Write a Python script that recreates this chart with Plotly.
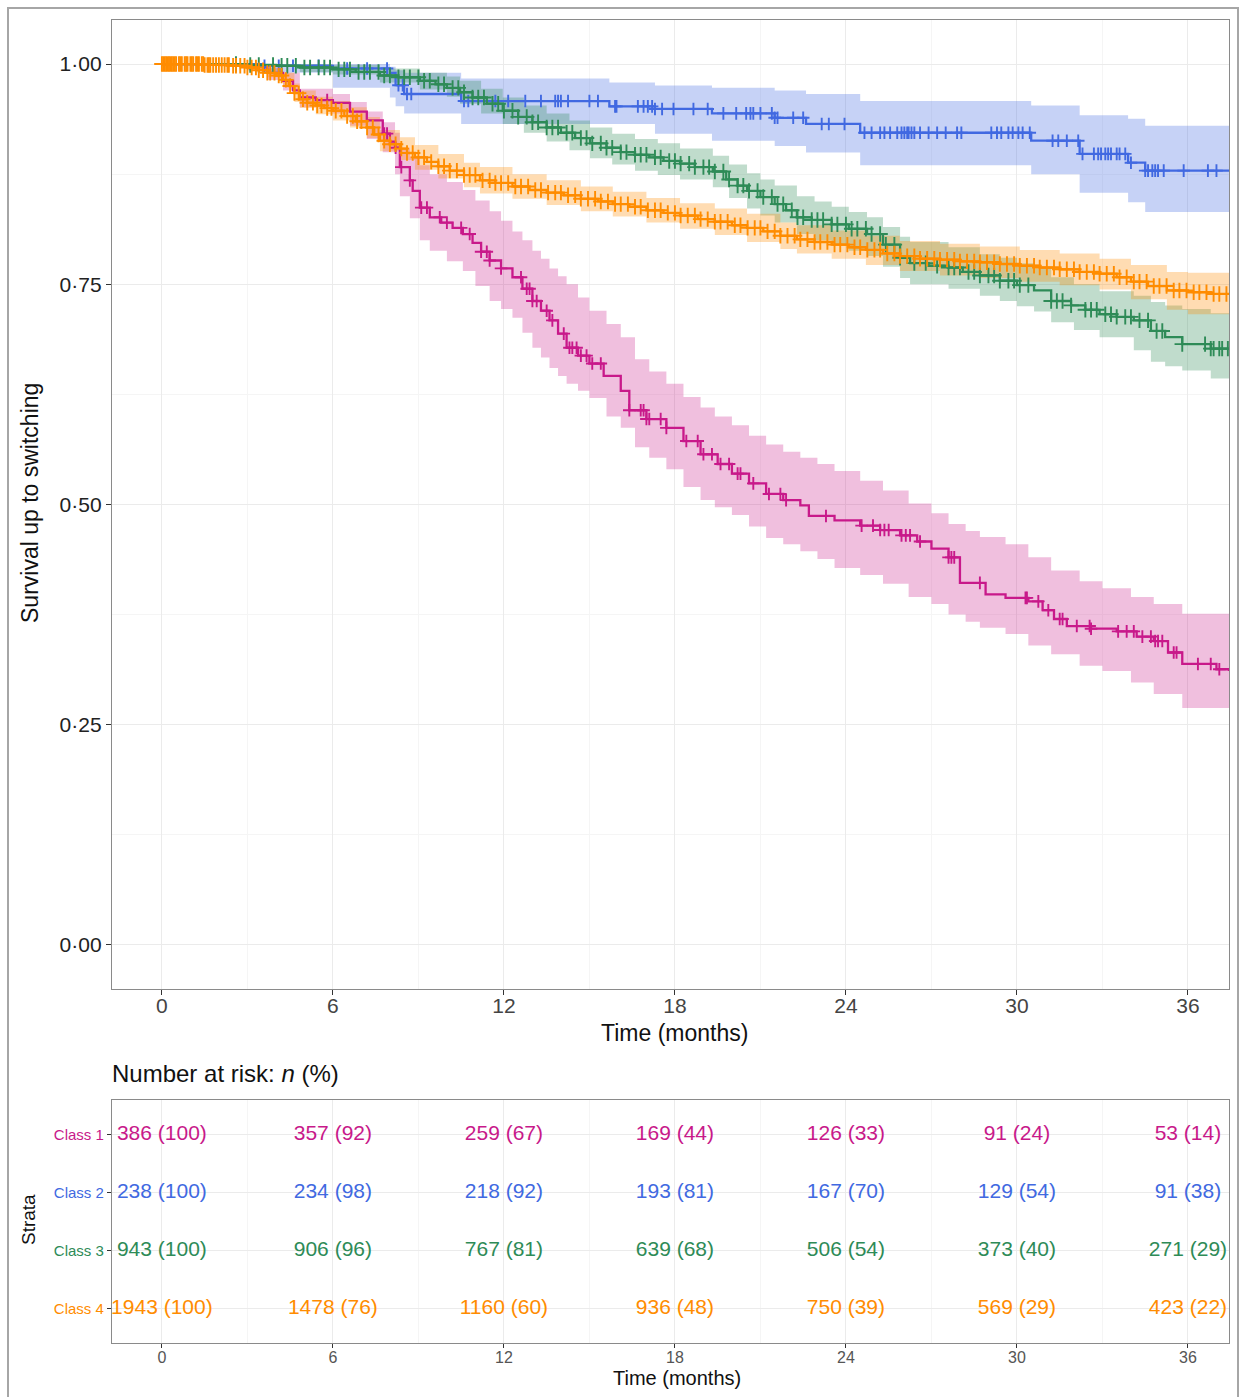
import numpy as np
import plotly.graph_objects as go

W, H = 1242, 1397

class_names = ["Class 1", "Class 2", "Class 3", "Class 4"]
colors = ["#C8198A", "#4169E1", "#2E8B57", "#FF8C00"]
band_colors = ["rgba(200,25,138,0.28)", "rgba(65,105,225,0.30)",
               "rgba(46,139,87,0.30)", "rgba(255,140,0,0.30)"]

# ---------------- Class 1 (magenta) ----------------
t1 = [0, 3.0, 3.7, 4.25, 4.6, 4.84, 5.4, 6.0, 6.6, 7.19,
      7.75, 8.0, 8.18, 8.35, 8.7, 8.8, 9.05, 9.4, 9.8, 10.2,
      10.56, 10.9, 11.2, 11.5, 11.9, 12.3, 12.65, 13.0, 13.3, 13.6,
      13.9, 14.2, 14.6, 15.0, 15.5, 16.1, 16.4, 17.0, 17.7, 18.3,
      18.9, 19.5, 20.0, 20.6, 21.2, 21.8, 22.4, 22.7, 23.6, 24.5,
      25.2, 25.9, 26.5, 27.0, 27.6, 28.0, 28.9, 29.6, 30.4, 30.9,
      31.3, 31.75, 32.6, 33.5, 34.2, 34.8, 35.3, 35.8, 37.0, 37.44]
s1 = [1.0, 0.997, 0.99, 0.981, 0.97, 0.962, 0.959, 0.956, 0.946, 0.936,
      0.921, 0.912, 0.905, 0.883, 0.868, 0.856, 0.837, 0.826, 0.82, 0.814,
      0.807, 0.797, 0.787, 0.777, 0.768, 0.758, 0.745, 0.731, 0.72, 0.709,
      0.694, 0.678, 0.669, 0.66, 0.646, 0.629, 0.607, 0.597, 0.587, 0.572,
      0.557, 0.546, 0.535, 0.524, 0.512, 0.505, 0.499, 0.487, 0.482, 0.476,
      0.471, 0.465, 0.458, 0.45, 0.44, 0.411, 0.398, 0.394, 0.39, 0.38,
      0.37, 0.362, 0.359, 0.356, 0.35, 0.345, 0.332, 0.319, 0.313, 0.311]
bt1 = [0, 3.0, 3.7, 4.25, 4.84, 6.0, 6.6, 7.19, 7.75, 8.18,
       8.35, 8.7, 9.05, 9.4, 10.0, 10.56, 11.0, 11.5, 11.9, 12.3,
       12.65, 13.0, 13.3, 13.6, 13.9, 14.2, 14.6, 15.0, 15.6, 16.1,
       16.6, 17.1, 17.7, 18.3, 18.9, 19.4, 20.0, 20.6, 21.2, 21.8,
       22.4, 23.0, 23.6, 24.5, 25.3, 26.2, 27.0, 27.6, 28.2, 28.7,
       29.6, 30.4, 31.2, 32.2, 33.0, 34.0, 34.8, 35.8, 37.44]
hi1 = [1.0, 1.0, 0.996, 0.99, 0.972, 0.966, 0.957, 0.946, 0.934, 0.922,
       0.905, 0.895, 0.885, 0.875, 0.866, 0.857, 0.845, 0.833, 0.822, 0.81,
       0.8, 0.788, 0.779, 0.768, 0.759, 0.75, 0.735, 0.72, 0.705, 0.69,
       0.665, 0.651, 0.637, 0.622, 0.61, 0.6, 0.59, 0.578, 0.568, 0.56,
       0.553, 0.546, 0.538, 0.527, 0.516, 0.501, 0.49, 0.478, 0.47, 0.463,
       0.455, 0.44, 0.425, 0.413, 0.405, 0.395, 0.387, 0.376, 0.376]
lo1 = [1.0, 0.993, 0.982, 0.97, 0.951, 0.944, 0.93, 0.915, 0.9, 0.875,
       0.85, 0.825, 0.8, 0.788, 0.776, 0.765, 0.748, 0.731, 0.722, 0.712,
       0.695, 0.678, 0.667, 0.655, 0.646, 0.637, 0.629, 0.621, 0.6, 0.587,
       0.565, 0.553, 0.54, 0.52, 0.505, 0.497, 0.488, 0.475, 0.462, 0.455,
       0.447, 0.438, 0.428, 0.42, 0.41, 0.395, 0.387, 0.375, 0.367, 0.36,
       0.353, 0.34, 0.33, 0.317, 0.311, 0.298, 0.285, 0.269, 0.26]
c1 = [5.8, 7.8, 7.9, 8.2, 8.4, 8.7, 9.1, 9.3, 9.75, 10.0, 10.5, 10.8, 11.2, 11.4, 11.5,
      11.9, 12.6, 12.8, 12.9, 13.0, 13.15, 13.5, 13.7, 14.1, 14.3, 14.4, 14.55, 14.7, 14.9,
      15.1, 15.4, 16.4, 16.8, 16.9, 17.0, 17.1, 17.5, 17.7, 18.4, 18.8, 19.0, 19.3, 19.6,
      19.9, 20.2, 20.3, 20.75, 21.3, 21.7, 21.9, 23.3, 24.55, 24.95, 25.2, 25.35, 25.5,
      25.95, 26.1, 26.25, 26.6, 27.6, 27.7, 27.8, 28.7, 30.3, 30.35, 30.75, 31.1, 31.5,
      31.6, 32.1, 32.55, 32.6, 33.55, 33.85, 34.1, 34.4, 34.7, 34.85, 34.95, 35.1, 35.5,
      35.6, 36.35, 36.8, 37.1]

# ---------------- Class 2 (blue) ----------------
t2 = [0, 3.5, 6.0, 8.0, 8.2, 8.5, 10.5, 15.7, 17.3, 19.3, 21.5, 22.6, 24.5, 30.5, 32.2,
      33.9, 34.5, 37.44]
s2 = [1.0, 0.998, 0.995, 0.99, 0.976, 0.966, 0.958, 0.952, 0.949, 0.944, 0.939, 0.932,
      0.922, 0.913, 0.898, 0.888, 0.879, 0.879]
bt2 = t2
hi2 = [1.0, 1.0, 1.0, 0.997, 0.993, 0.99, 0.9835, 0.979, 0.9756, 0.973, 0.97, 0.966, 0.958,
       0.953, 0.942, 0.938, 0.930, 0.930]
lo2 = [1.0, 0.99, 0.973, 0.962, 0.952, 0.944, 0.932, 0.932, 0.921, 0.913, 0.907, 0.8995,
       0.885, 0.875, 0.854, 0.843, 0.832, 0.832]
c2 = [3.6, 4.1, 4.6, 5.5, 6.5, 7.2, 7.9, 8.3, 8.45, 8.6, 8.75, 10.6, 10.75, 11.7, 12.15,
      12.75, 13.3, 13.8, 13.9, 14.0, 14.25, 15.0, 15.3, 15.9, 15.95, 16.7, 16.9, 17.05,
      17.2, 17.3, 17.55, 17.95, 18.65, 19.15, 19.7, 20.15, 20.5, 20.65, 20.75, 21.0, 21.4,
      21.5, 21.6, 22.15, 22.5, 23.15, 23.4, 23.95, 24.65, 24.9, 25.2, 25.35, 25.55, 25.8,
      25.95, 26.05, 26.15, 26.2, 26.3, 26.4, 26.6, 26.9, 27.2, 27.5, 27.9, 28.05, 29.1,
      29.3, 29.45, 29.7, 29.85, 30.05, 30.2, 30.45, 31.25, 31.45, 31.75, 32.15, 32.3, 32.7,
      32.85, 32.95, 33.1, 33.2, 33.3, 33.5, 33.6, 33.8, 34.0, 34.5, 34.6, 34.75, 34.85,
      34.95, 35.15, 35.85, 36.7, 37.0]

# ---------------- Class 3 (green) ----------------
t3 = [0, 3.0, 4.0, 4.84, 6.0, 6.8, 7.65, 8.3, 9.05, 9.6,
      10.0, 10.46, 10.9, 11.4, 11.96, 12.5, 13.0, 13.5, 14.0, 14.5,
      15.02, 15.6, 16.1, 16.6, 17.1, 17.6, 18.18, 18.7, 19.33, 19.8,
      20.2, 20.53, 21.0, 21.5, 21.9, 22.28, 22.8, 23.5, 24.1, 24.74,
      25.3, 25.9, 26.25, 26.9, 27.6, 28.1, 28.7, 29.4, 30.0, 30.6,
      31.2, 31.9, 32.4, 32.9, 33.5, 34.1, 34.7, 35.2, 35.8, 36.8,
      37.44]
s3 = [1.0, 0.999, 0.998, 0.996, 0.994, 0.991, 0.987, 0.985, 0.981, 0.977,
      0.973, 0.968, 0.962, 0.955, 0.947, 0.94, 0.934, 0.928, 0.922, 0.916,
      0.91, 0.905, 0.9, 0.897, 0.894, 0.89, 0.887, 0.883, 0.878, 0.869,
      0.862, 0.856, 0.849, 0.841, 0.834, 0.826, 0.823, 0.818, 0.813, 0.807,
      0.795, 0.78, 0.774, 0.771, 0.769, 0.764, 0.76, 0.754, 0.749, 0.743,
      0.731, 0.726, 0.721, 0.716, 0.713, 0.709, 0.697, 0.69, 0.682, 0.677,
      0.677]
bt3 = [0, 3.0, 4.84, 6.0, 7.65, 9.05, 10.0, 10.46, 11.2, 11.96,
       12.7, 13.5, 14.3, 15.02, 15.8, 16.6, 17.4, 18.18, 19.33, 19.9,
       20.53, 21.0, 21.5, 22.28, 22.9, 23.5, 24.1, 24.74, 25.3, 25.9,
       26.25, 27.6, 28.7, 29.4, 30.0, 30.6, 31.2, 32.0, 32.9, 34.1,
       34.7, 35.2, 35.8, 36.8, 37.44]
hi3 = [1.0, 1.0, 1.0, 0.999, 0.995, 0.99, 0.986, 0.981, 0.972, 0.962,
       0.953, 0.944, 0.936, 0.928, 0.921, 0.915, 0.91, 0.904, 0.896, 0.886,
       0.876, 0.869, 0.862, 0.85, 0.844, 0.838, 0.832, 0.826, 0.815, 0.804,
       0.798, 0.792, 0.784, 0.78, 0.774, 0.768, 0.758, 0.75, 0.742, 0.737,
       0.73, 0.726, 0.722, 0.717, 0.716]
lo3 = [1.0, 0.997, 0.991, 0.988, 0.979, 0.971, 0.963, 0.955, 0.944, 0.932,
       0.922, 0.912, 0.902, 0.893, 0.886, 0.879, 0.874, 0.869, 0.86, 0.848,
       0.836, 0.828, 0.82, 0.807, 0.8, 0.794, 0.788, 0.782, 0.77, 0.757,
       0.75, 0.745, 0.737, 0.731, 0.725, 0.719, 0.707, 0.698, 0.69, 0.675,
       0.662, 0.657, 0.652, 0.643, 0.64]
c3 = [2.6, 3.1, 3.4, 3.9, 4.2, 4.4, 4.7, 5.0, 5.2, 5.5, 5.7, 5.9, 6.2, 6.4, 6.6, 6.9, 7.1,
      7.3, 7.6, 7.8, 8.0, 8.3, 8.5, 8.7, 9.0, 9.2, 9.4, 9.7, 9.9, 10.2, 10.4, 10.6, 10.9,
      11.1, 11.3, 11.6, 11.8, 12.0, 12.3, 12.5, 12.8, 13.0, 13.2, 13.5, 13.7, 13.9, 14.2,
      14.4, 14.7, 14.9, 15.1, 15.4, 15.6, 15.8, 16.1, 16.3, 16.6, 16.8, 17.0, 17.3, 17.5,
      17.8, 18.0, 18.2, 18.5, 18.7, 19.0, 19.2, 19.4, 19.7, 19.9, 20.2, 20.4, 20.6, 20.9,
      21.1, 21.4, 21.6, 21.8, 22.1, 22.3, 22.5, 22.8, 23.0, 23.2, 23.5, 23.7, 24.0, 24.2,
      24.4, 24.7, 24.9, 25.2, 25.4, 25.7, 25.9, 26.4, 26.8, 27.2, 27.6, 27.8, 28.0, 28.3,
      28.5, 28.7, 29.0, 29.2, 29.4, 29.7, 29.9, 30.1, 30.4, 31.2, 31.4, 31.6, 31.9, 32.4,
      32.6, 32.8, 33.1, 33.3, 33.5, 33.8, 34.0, 34.3, 34.6, 34.9, 35.1, 35.8, 36.6, 36.8,
      36.9, 37.1, 37.2, 37.4]

# ---------------- Class 4 (orange) ----------------
t4 = [0, 1.5, 2.5, 3.0, 3.4, 3.7, 4.0, 4.25, 4.45, 4.65,
      4.84, 5.1, 5.4, 5.7, 6.0, 6.4, 6.8, 7.19, 7.45, 7.65,
      8.0, 8.35, 8.6, 8.88, 9.3, 9.7, 10.1, 10.6, 11.16, 11.7,
      12.3, 12.9, 13.5, 14.1, 14.7, 15.3, 15.82, 16.4, 17.0, 17.6,
      18.18, 18.8, 19.4, 20.0, 20.53, 21.1, 21.7, 22.28, 22.9, 23.5,
      24.1, 24.7, 25.3, 25.89, 26.6, 27.3, 28.0, 28.7, 29.4, 30.1,
      30.8, 31.5, 32.2, 32.9, 33.5, 34.0, 34.6, 35.26, 36.0, 36.8,
      37.44]
s4 = [1.0, 0.999, 0.998, 0.996, 0.993, 0.99, 0.987, 0.982, 0.975, 0.967,
      0.96, 0.956, 0.953, 0.95, 0.947, 0.941, 0.935, 0.928, 0.92, 0.913,
      0.909, 0.904, 0.899, 0.894, 0.889, 0.884, 0.879, 0.874, 0.868, 0.865,
      0.861, 0.857, 0.854, 0.851, 0.847, 0.844, 0.841, 0.838, 0.834, 0.831,
      0.828, 0.824, 0.821, 0.817, 0.814, 0.81, 0.805, 0.801, 0.798, 0.795,
      0.792, 0.789, 0.785, 0.782, 0.779, 0.778, 0.776, 0.775, 0.773, 0.771,
      0.769, 0.767, 0.764, 0.762, 0.758, 0.753, 0.748, 0.743, 0.741, 0.739,
      0.739]
bt4 = [0, 2.0, 3.0, 3.7, 4.25, 4.65, 4.84, 5.4, 6.0, 6.6,
       7.19, 7.65, 8.35, 8.88, 9.7, 10.6, 11.16, 12.3, 13.5, 14.7,
       15.82, 17.0, 18.18, 19.4, 20.53, 21.7, 22.28, 23.5, 24.7, 25.89,
       27.3, 28.7, 30.1, 31.5, 32.9, 34.0, 35.26, 36.0, 37.44]
hi4 = [1.0, 1.0, 0.999, 0.995, 0.99, 0.978, 0.97, 0.963, 0.958, 0.951,
       0.94, 0.925, 0.917, 0.908, 0.898, 0.888, 0.883, 0.875, 0.868, 0.861,
       0.855, 0.848, 0.842, 0.836, 0.83, 0.82, 0.817, 0.811, 0.805, 0.799,
       0.796, 0.793, 0.789, 0.785, 0.779, 0.772, 0.764, 0.763, 0.762]
lo4 = [1.0, 0.997, 0.993, 0.985, 0.975, 0.957, 0.95, 0.943, 0.936, 0.928,
       0.916, 0.901, 0.891, 0.88, 0.87, 0.86, 0.853, 0.847, 0.84, 0.833,
       0.827, 0.82, 0.813, 0.806, 0.798, 0.79, 0.785, 0.779, 0.772, 0.765,
       0.76, 0.757, 0.753, 0.749, 0.744, 0.733, 0.721, 0.716, 0.713]
c4 = [0.0, 0.05, 0.1, 0.15, 0.2, 0.25, 0.3, 0.35, 0.4, 0.45, 0.5, 0.6, 0.65, 0.7, 0.8,
      0.85, 0.9, 1.0, 1.05, 1.1, 1.2, 1.25, 1.3, 1.4, 1.45, 1.5, 1.6, 1.65, 1.7, 1.8, 1.9,
      2.0, 2.1, 2.2, 2.3, 2.35, 2.5, 2.6, 2.75, 2.9, 3.0, 3.15, 3.3, 3.4, 3.55,
      3.7, 3.8, 3.95, 4.1, 4.2, 4.35, 4.5, 4.65, 4.8, 4.95, 5.1, 5.3, 5.45, 5.6, 5.8, 5.95,
      6.1, 6.3, 6.5, 6.7, 6.85, 7.0, 7.2, 7.4, 7.6, 7.8, 8.0, 8.2, 8.4, 8.6, 8.8, 9.0, 9.2,
      9.45, 9.7, 9.9, 10.1, 10.35, 10.6, 10.8, 11.0, 11.25, 11.5, 11.7, 11.9, 12.15, 12.4,
      12.6, 12.85, 13.1, 13.3, 13.55, 13.8, 14.0, 14.25, 14.5, 14.7, 14.95, 15.2, 15.4,
      15.65, 15.9, 16.1, 16.35, 16.6, 16.8, 17.05, 17.3, 17.5, 17.75, 18.0, 18.2, 18.45,
      18.7, 18.9, 19.15, 19.4, 19.6, 19.85, 20.1, 20.3, 20.55, 20.8, 21.0, 21.25, 21.5,
      21.7, 21.95, 22.2, 22.4, 22.65, 22.9, 23.1, 23.35, 23.6, 23.8, 24.05, 24.3, 24.5,
      24.75, 25.0, 25.2, 25.45, 25.7, 25.9, 26.15, 26.4, 26.6, 26.85, 27.1, 27.3, 27.55,
      27.8, 28.0, 28.25, 28.5, 28.7, 28.95, 29.2, 29.4, 29.65, 29.9, 30.1, 30.35, 30.6,
      30.8, 31.05, 31.3, 31.5, 31.75, 32.0, 32.2, 32.45, 32.7, 32.9, 33.15, 33.4, 33.6,
      33.85, 34.1, 34.3, 34.55, 34.8, 35.0, 35.25, 35.5, 35.7, 35.95, 36.2, 36.4, 36.65,
      36.9, 37.1, 37.35]

times = [t1, t2, t3, t4]
survs = [s1, s2, s3, s4]
band_times = [bt1, bt2, bt3, bt4]
highs = [hi1, hi2, hi3, hi4]
lows = [lo1, lo2, lo3, lo4]
censors = [c1, c2, c3, c4]
censor_size = [9, 9, 11, 11]

# ---------------- Risk table ----------------
risk_times = [0, 6, 12, 18, 24, 30, 36]
risk_n = [[386, 357, 259, 169, 126, 91, 53],
          [238, 234, 218, 193, 167, 129, 91],
          [943, 906, 767, 639, 506, 373, 271],
          [1943, 1478, 1160, 936, 750, 569, 423]]
risk_pct = [[100, 92, 67, 44, 33, 24, 14],
            [100, 98, 92, 81, 70, 54, 38],
            [100, 96, 81, 68, 54, 40, 29],
            [100, 76, 60, 48, 39, 29, 22]]

x_ticks = [0, 6, 12, 18, 24, 30, 36]
x_minor = [3, 9, 15, 21, 27, 33]
y_ticks = [0, 0.25, 0.5, 0.75, 1.0]
y_ticktext = ["0·00", "0·25", "0·50", "0·75", "1·00"]
y_minor = [0.125, 0.375, 0.625, 0.875]

FONT = "Liberation Sans, Arial, sans-serif"

fig = go.Figure()

# confidence bands
for k in range(4):
    fig.add_trace(go.Scatter(x=band_times[k], y=lows[k], mode="lines",
                             line=dict(width=0, shape="hv", color=band_colors[k]),
                             hoverinfo="skip", showlegend=False, xaxis="x", yaxis="y"))
    fig.add_trace(go.Scatter(x=band_times[k], y=highs[k], mode="lines",
                             line=dict(width=0, shape="hv", color=band_colors[k]),
                             fill="tonexty", fillcolor=band_colors[k],
                             hoverinfo="skip", showlegend=False, xaxis="x", yaxis="y"))

# survival curves with censoring marks
for k in range(4):
    fig.add_trace(go.Scatter(x=times[k], y=survs[k], mode="lines",
                             line=dict(width=2.3, shape="hv", color=colors[k]),
                             name=class_names[k], showlegend=False, xaxis="x", yaxis="y"))
    tk = np.array(times[k])
    sk = np.array(survs[k])
    ck = np.array(censors[k])
    idx = np.searchsorted(tk, ck, side="right") - 1
    fig.add_trace(go.Scatter(x=ck, y=sk[idx], mode="markers",
                             marker=dict(symbol="cross-thin", size=censor_size[k],
                                         line=dict(width=1.9, color=colors[k]),
                                         color=colors[k]),
                             showlegend=False, hoverinfo="skip", xaxis="x", yaxis="y"))

# risk table text
row_y = [4, 3, 2, 1]
for k in range(4):
    fig.add_trace(go.Scatter(
        x=risk_times, y=[row_y[k]] * len(risk_times), mode="text",
        text=[f"{n} ({p})" for n, p in zip(risk_n[k], risk_pct[k])],
        textfont=dict(family=FONT, size=21, color=colors[k]),
        textposition="middle center", showlegend=False, hoverinfo="skip",
        xaxis="x2", yaxis="y2"))

def px_x(p):
    return p / W

def px_y(p):
    return 1 - p / H

xr = [-1.75, 37.44]
grid_major = "#EBEBEB"
grid_minor = "#F5F5F5"
border = "#8A8A8A"

fig.update_layout(
    width=W, height=H,
    margin=dict(l=0, r=0, t=0, b=0),
    paper_bgcolor="white", plot_bgcolor="white",
    font=dict(family=FONT, color="#222"),
    showlegend=False,
    xaxis=dict(domain=[px_x(112), px_x(1229)], range=xr, anchor="y",
               tickvals=x_ticks, ticktext=[str(v) for v in x_ticks],
               ticks="outside", ticklen=5, tickwidth=1.2, tickcolor="#333",
               tickfont=dict(size=21, color="#444"), ticklabelstandoff=-7,
               showgrid=True, gridcolor=grid_major, gridwidth=1.3,
               minor=dict(tickvals=x_minor, showgrid=True, gridcolor=grid_minor, gridwidth=1),
               showline=True, linecolor=border, linewidth=1.3, mirror=True,
               zeroline=False, automargin=False),
    yaxis=dict(domain=[px_y(989), px_y(20)], range=[-0.05, 1.05], anchor="x",
               tickvals=y_ticks, ticktext=y_ticktext,
               ticks="outside", ticklen=5, tickwidth=1.2, tickcolor="#333",
               tickfont=dict(size=21, color="#222"),
               showgrid=True, gridcolor=grid_major, gridwidth=1.3,
               minor=dict(tickvals=y_minor, showgrid=True, gridcolor=grid_minor, gridwidth=1),
               showline=True, linecolor=border, linewidth=1.3, mirror=True,
               zeroline=False, automargin=False),
    xaxis2=dict(domain=[px_x(112), px_x(1229)], range=xr, anchor="y2",
                tickvals=x_ticks, ticktext=[str(v) for v in x_ticks],
                ticks="outside", ticklen=4, tickwidth=1.2, tickcolor="#333",
                tickfont=dict(size=16, color="#555"), ticklabelstandoff=-4,
                showgrid=True, gridcolor=grid_major, gridwidth=1.3,
                minor=dict(tickvals=x_minor, showgrid=True, gridcolor=grid_minor, gridwidth=1),
                showline=True, linecolor=border, linewidth=1.3, mirror=True,
                zeroline=False, automargin=False),
    yaxis2=dict(domain=[px_y(1343), px_y(1100)], range=[0.4, 4.6], anchor="x2",
                tickvals=row_y,
                ticktext=[f'<span style="color:{c}">{n}</span>' for c, n in zip(colors, class_names)],
                ticks="outside", ticklen=4, tickwidth=1.2, tickcolor="#333",
                tickfont=dict(size=15),
                showgrid=True, gridcolor=grid_major, gridwidth=1.3,
                showline=True, linecolor=border, linewidth=1.3, mirror=True,
                zeroline=False, automargin=False),
)

annotations = [
    dict(text="Survival up to switching", x=px_x(30), y=px_y(503), textangle=-90,
         font=dict(size=23, color="#111")),
    dict(text="Time (months)", x=px_x(674), y=px_y(1033),
         font=dict(size=23, color="#111")),
    dict(text="Number at risk: <i>n</i> (%)", x=px_x(110), y=px_y(1073), xanchor="left",
         font=dict(size=24, color="#111")),
    dict(text="Strata", x=px_x(28), y=px_y(1220), textangle=-90,
         font=dict(size=19, color="#111")),
    dict(text="Time (months)", x=px_x(677), y=px_y(1378),
         font=dict(size=20, color="#111")),
]
for a in annotations:
    a.update(xref="paper", yref="paper", showarrow=False)
    a.setdefault("xanchor", "center")
    a.setdefault("yanchor", "middle")
fig.update_layout(annotations=annotations)

fig.add_shape(type="rect", xref="paper", yref="paper",
              x0=px_x(8), x1=px_x(1238), y0=px_y(1405), y1=px_y(8),
              line=dict(color="#A6A6A6", width=2), fillcolor="rgba(0,0,0,0)", layer="below")

fig.write_html("out.html")
